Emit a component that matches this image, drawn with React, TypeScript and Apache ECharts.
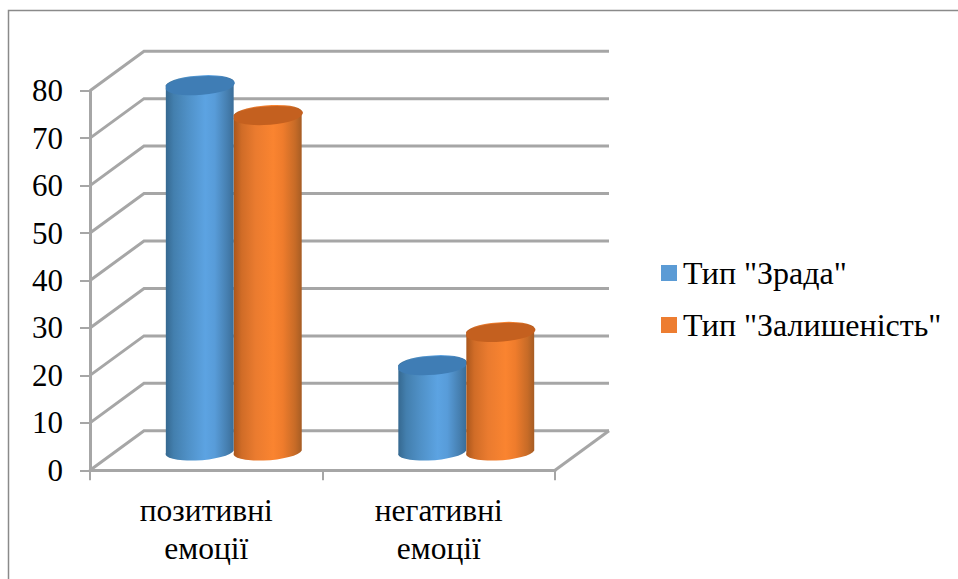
import React, { useEffect, useRef } from "react";
import * as echarts from "echarts";

const categories = ["позитивні\nемоції", "негативні\nемоції"];
const seriesNames = ['Тип "Зрада"', 'Тип "Залишеність"'];
const zradaValues = [77, 18];
const zalyshenistValues = [70.7, 25];
const gridTicks = [0, 10, 20, 30, 40, 50, 60, 70, 80];

// Oblique projection of the chart's depth, in pixels.
const DEPTH_X = 54;
const DEPTH_Y = 39.5;
const AXIS_GREY = "#a6a6a6";
const FONT = '"Liberation Serif", serif';

const blueRamp = ["#35688f", "#437fae", "#4f90c6", "#5ca3e2", "#589cd9", "#467fb0", "#3a6d98"];
const orangeRamp = ["#a9561c", "#d06c27", "#ea7b2f", "#fa8430", "#ef7c2c", "#c76b27", "#a55c24"];

function sideGradient(stops: string[]) {
  return {
    type: "linear",
    x: 0,
    y: 0,
    x2: 1,
    y2: 0,
    colorStops: [0, 0.12, 0.32, 0.58, 0.72, 0.9, 1].map((offset, i) => ({
      offset,
      color: stops[i],
    })),
  };
}

// Cylinder standing halfway into the floor's depth; shift is its offset from the band centre.
function cylinderItem(shift: number, ramp: string[], lidColor: string) {
  return (_params: any, api: any) => {
    const category = api.value(0);
    const top = api.coord([category, api.value(1)]);
    const base = api.coord([category, 0]);
    const cx = top[0] + DEPTH_X / 2 + shift;
    const yTop = top[1] - DEPTH_Y / 2;
    const yBase = base[1] - DEPTH_Y / 2;
    const rx = 34;
    const ry = 8.5;
    const tilt = -4;
    const ex = rx * Math.cos((tilt * Math.PI) / 180);
    const ey = rx * Math.sin((tilt * Math.PI) / 180);
    const arc = `A ${rx} ${ry} ${tilt} 0 0`;
    const body =
      `M ${cx - ex} ${yTop - ey} L ${cx - ex} ${yBase - ey} ` +
      `${arc} ${cx + ex} ${yBase + ey} L ${cx + ex} ${yTop + ey} ` +
      `${arc} ${cx - ex} ${yTop - ey} Z`;
    const lid =
      `M ${cx - ex} ${yTop - ey} ${arc} ${cx + ex} ${yTop + ey} ` +
      `${arc} ${cx - ex} ${yTop - ey} Z`;
    return {
      type: "group",
      children: [
        { type: "path", shape: { pathData: body }, style: { fill: sideGradient(ramp) } },
        { type: "path", shape: { pathData: lid }, style: { fill: lidColor } },
      ],
    };
  };
}

// Back-wall gridline plus the diagonal running forward along the side wall.
function gridLineItem(params: any, api: any) {
  const sys = params.coordSys;
  const y = api.coord([0, api.value(1)])[1];
  return {
    type: "polyline",
    shape: {
      points: [
        [sys.x, y],
        [sys.x + DEPTH_X, y - DEPTH_Y],
        [sys.x + sys.width + DEPTH_X, y - DEPTH_Y],
      ],
    },
    style: { stroke: AXIS_GREY, lineWidth: 3, fill: "none" },
  };
}

// Right-hand edge of the floor.
function floorEdgeItem(params: any) {
  const sys = params.coordSys;
  const right = sys.x + sys.width;
  const bottom = sys.y + sys.height;
  return {
    type: "line",
    shape: { x1: right, y1: bottom, x2: right + DEPTH_X, y2: bottom - DEPTH_Y },
    style: { stroke: AXIS_GREY, lineWidth: 3 },
  };
}

export default function App() {
  const ref = useRef<HTMLDivElement>(null);

  useEffect(() => {
    const chart = echarts.init(ref.current!, null, { renderer: "svg" });
    chart.setOption({
      animation: false,
      backgroundColor: "#ffffff",
      textStyle: { fontFamily: FONT, color: "#000" },
      graphic: [
        {
          type: "polyline",
          silent: true,
          shape: {
            points: [
              [8.5, 579],
              [8.5, 10.5],
              [958, 10.5],
            ],
          },
          style: { stroke: "#8a8a8a", lineWidth: 1.5, fill: "none" },
        },
      ],
      grid: { left: 90, top: 90.7, width: 465, height: 379.6 },
      xAxis: {
        type: "category",
        data: categories,
        axisLine: { show: true, lineStyle: { color: AXIS_GREY, width: 3 } },
        axisTick: {
          show: true,
          interval: 0,
          alignWithLabel: false,
          length: 10,
          lineStyle: { color: AXIS_GREY, width: 2 },
        },
        axisLabel: {
          color: "#000",
          fontFamily: FONT,
          fontSize: 31.5,
          lineHeight: 38,
          margin: 21,
          interval: 0,
        },
      },
      yAxis: {
        type: "value",
        min: 0,
        max: 80,
        interval: 10,
        splitLine: { show: false },
        axisLine: { show: true, lineStyle: { color: AXIS_GREY, width: 3 } },
        axisTick: { show: true, length: 10, lineStyle: { color: AXIS_GREY, width: 2 } },
        axisLabel: { color: "#000", fontFamily: FONT, fontSize: 31, margin: 27, padding: [4, 0, 0, 0] },
      },
      legend: {
        orient: "vertical",
        left: 661,
        top: 257,
        padding: 0,
        itemWidth: 16,
        itemHeight: 16,
        itemGap: 20,
        selectedMode: false,
        data: [
          { name: seriesNames[0], icon: "rect", itemStyle: { color: "#5b9bd5" } },
          { name: seriesNames[1], icon: "rect", itemStyle: { color: "#ed7d31" } },
        ],
        textStyle: { color: "#000", fontFamily: FONT, fontSize: 32, padding: [2, 0, 0, 1] },
      },
      series: [
        {
          type: "custom",
          name: "grid",
          silent: true,
          z: 1,
          clip: false,
          renderItem: gridLineItem,
          encode: { x: 0, y: 1 },
          data: gridTicks.map((t) => [0, t]),
        },
        {
          type: "custom",
          name: "floor",
          silent: true,
          z: 1,
          clip: false,
          renderItem: floorEdgeItem,
          encode: { x: 0, y: 1 },
          data: [[0, 0]],
        },
        {
          type: "custom",
          name: seriesNames[0],
          z: 3,
          clip: false,
          itemStyle: { color: "#5b9bd5" },
          renderItem: cylinderItem(-33.5, blueRamp, "#3f7db5"),
          encode: { x: 0, y: 1 },
          data: zradaValues.map((v, i) => [i, v]),
        },
        {
          type: "custom",
          name: seriesNames[1],
          z: 4,
          clip: false,
          itemStyle: { color: "#ed7d31" },
          renderItem: cylinderItem(34.5, orangeRamp, "#c4601f"),
          encode: { x: 0, y: 1 },
          data: zalyshenistValues.map((v, i) => [i, v]),
        },
      ],
    });
    return () => chart.dispose();
  }, []);

  return (
    <div
      ref={ref}
      style={{ position: "fixed", left: 0, top: 0, width: 958, height: 579 }}
    />
  );
}
